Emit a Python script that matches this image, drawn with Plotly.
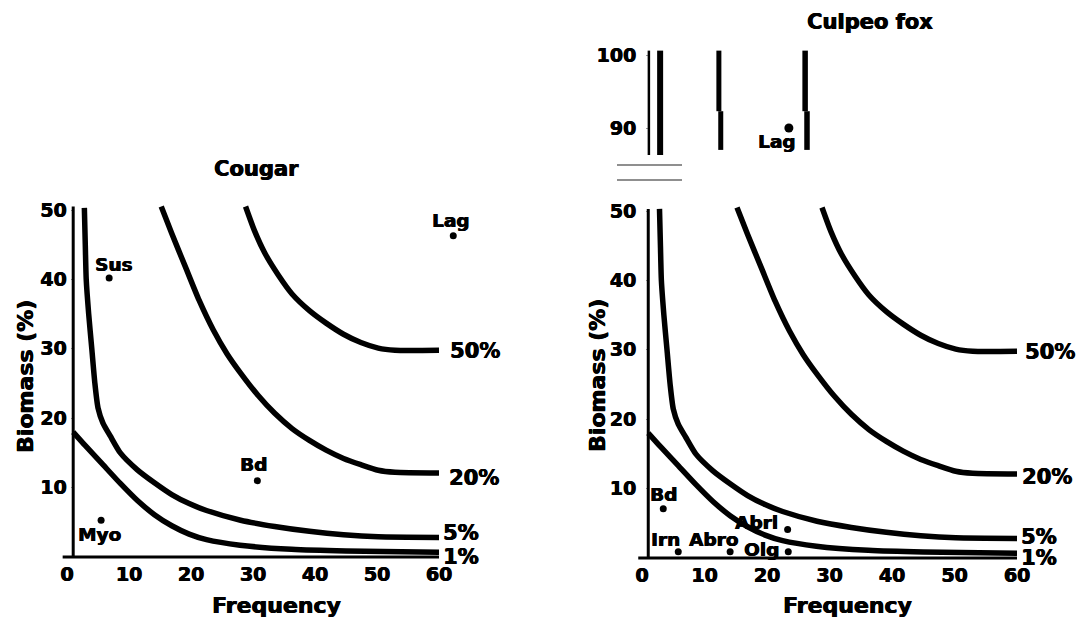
import plotly.graph_objects as go

# ---------------- data ----------------
# iso-lines (same on both panels): frequency (x) vs biomass (y)
freq_1 = [1.0, 3.0, 5.8, 8.6, 11.4, 14.1, 16.9, 19.7, 22.5, 27.9, 36.2, 45.0, 60.0]
bio_1 = [18.0, 16.0, 13.3, 10.6, 8.1, 6.1, 4.5, 3.3, 2.5, 1.7, 1.1, 0.85, 0.7]
freq_5 = [2.8, 2.95, 3.1, 3.5, 4.0, 4.5, 5.0, 5.8, 7.0, 8.6, 11.3, 14.1, 16.9, 19.7,
          22.5, 28.0, 33.5, 39.1, 44.6, 50.2, 60.0]
bio_5 = [50.3, 45.0, 40.0, 35.0, 30.0, 25.0, 21.5, 19.3, 17.4, 15.0, 12.6, 10.7, 9.0, 7.7,
         6.7, 5.3, 4.4, 3.7, 3.2, 2.9, 2.8]
freq_20 = [15.2, 16.9, 19.1, 21.3, 23.6, 25.8, 28.0, 30.8, 33.5, 36.3, 39.1, 41.8, 44.6,
           47.4, 50.2, 52.9, 60.0]
bio_20 = [50.5, 46.6, 41.8, 37.0, 32.7, 29.3, 26.5, 23.3, 20.7, 18.5, 16.8, 15.4, 14.2,
          13.3, 12.5, 12.2, 12.1]
freq_50 = [28.8, 30.2, 31.9, 34.1, 36.3, 39.1, 41.8, 44.6, 47.4, 50.2, 52.9, 60.0]
bio_50 = [50.5, 47.1, 43.8, 40.6, 37.9, 35.5, 33.7, 32.1, 30.9, 30.1, 29.8, 29.8]
curve_labels = ["1%", "5%", "20%", "50%"]

# continuation of iso-lines above the axis break (Culpeo fox panel)
up_freq_5 = [2.9, 2.9]
up_bio_5 = [86.3, 100.6]
up_freq_20 = [12.6, 12.6, None, 12.3, 12.3]
up_bio_20 = [87.0, 92.3, None, 92.3, 100.6]
up_freq_50 = [26.4, 26.4, None, 26.1, 26.1]
up_bio_50 = [87.0, 92.3, None, 92.3, 100.6]

# prey points
cougar_prey = ["Lag", "Sus", "Bd", "Myo"]
cougar_freq = [62.3, 6.8, 30.7, 5.5]
cougar_bio = [46.3, 40.2, 11.0, 5.3]

fox_prey = ["Bd", "Irn", "Abro", "Abrl", "Olg"]
fox_freq = [3.4, 5.8, 14.1, 23.3, 23.4]
fox_bio = [7.1, 0.9, 0.9, 4.1, 0.9]
fox_top_prey = ["Lag"]
fox_top_freq = [23.5]
fox_top_bio = [90.0]

x_ticks = [0, 10, 20, 30, 40, 50, 60]
y_ticks = [10, 20, 30, 40, 50]
y_ticks_top = [90, 100]

# ---------------- layout helpers ----------------
W, H = 1077, 620
FONT = "DejaVu Sans, sans-serif"
SHADOW = "0.6px 0px 0px black, -0.3px 0px 0px black"


def fnt(size):
    return dict(family=FONT, size=size, color="black", weight="bold", shadow=SHADOW)


def px(v):
    return v / W


def py(v):
    return 1 - v / H


# left panel mapping
L_X0, L_KX, L_Y0, L_KY = 67, 6.2, 557, 6.94
# right panel mapping
R_X0, R_KX, R_Y0, R_KY = 642, 6.25, 558, 6.94
T_Y100, T_KY = 55, 7.3

fig = go.Figure()

line_style = dict(color="black", width=5.5, shape="spline", smoothing=0.6)
curves = [(freq_1, bio_1), (freq_5, bio_5), (freq_20, bio_20), (freq_50, bio_50)]
for xa, ya in [("x", "y"), ("x2", "y2")]:
    for fx, by in curves:
        fig.add_trace(go.Scatter(x=fx, y=by, mode="lines", line=line_style,
                                 xaxis=xa, yaxis=ya, hoverinfo="skip",
                                 showlegend=False, cliponaxis=False))

for fx, by, w in [(up_freq_5, up_bio_5, 6), (up_freq_20, up_bio_20, 5),
                  (up_freq_50, up_bio_50, 5.5)]:
    fig.add_trace(go.Scatter(x=fx, y=by, mode="lines",
                             line=dict(color="black", width=w),
                             xaxis="x3", yaxis="y3", showlegend=False,
                             hoverinfo="skip", cliponaxis=False))

marker = dict(color="black", size=7)
fig.add_trace(go.Scatter(x=cougar_freq, y=cougar_bio, mode="markers", marker=marker,
                         xaxis="x", yaxis="y", showlegend=False, cliponaxis=False))
fig.add_trace(go.Scatter(x=fox_freq, y=fox_bio, mode="markers", marker=marker,
                         xaxis="x2", yaxis="y2", showlegend=False, cliponaxis=False))
fig.add_trace(go.Scatter(x=fox_top_freq, y=fox_top_bio, mode="markers",
                         marker=dict(color="black", size=9),
                         xaxis="x3", yaxis="y3", showlegend=False, cliponaxis=False))

ann = []
lab_font = fnt(18.5)
cougar_shift = {"Lag": (-2, 15), "Sus": (5, 14), "Bd": (-4, 16), "Myo": (-2, -14)}
for n, fx, by in zip(cougar_prey, cougar_freq, cougar_bio):
    dx, dy = cougar_shift[n]
    ann.append(dict(x=fx, y=by, xref="x", yref="y", text=n, showarrow=False,
                    xanchor="center", yanchor="middle",
                    xshift=dx, yshift=dy, font=lab_font))
fox_shift = {"Bd": (0, 14), "Irn": (-13, 12), "Abro": (-17, 12),
             "Abrl": (-31, 7), "Olg": (-27, 2)}
for n, fx, by in zip(fox_prey, fox_freq, fox_bio):
    dx, dy = fox_shift[n]
    ann.append(dict(x=fx, y=by, xref="x2", yref="y2", text=n, showarrow=False,
                    xanchor="center", yanchor="middle",
                    xshift=dx, yshift=dy, font=lab_font))
for n, fx, by in zip(fox_top_prey, fox_top_freq, fox_top_bio):
    ann.append(dict(x=fx, y=by, xref="x3", yref="y3", text=n, showarrow=False,
                    xanchor="center", yanchor="middle",
                    xshift=-12, yshift=-14, font=lab_font))

# curve labels at the right end of each iso-line
pct_font = fnt(21)
left_shift = [(2, -5), (2, 5), (8, -5), (9, -1)]
right_shift = [(2, -5), (2, 2), (3, -3), (6, -1)]
for (fx, by), lab, ls, rs in zip(curves, curve_labels, left_shift, right_shift):
    for (xr, yr), s in [(("x", "y"), ls), (("x2", "y2"), rs)]:
        ann.append(dict(x=fx[-1], y=by[-1], xref=xr, yref=yr, text=lab,
                        showarrow=False, xanchor="left", yanchor="middle",
                        xshift=s[0], yshift=s[1], font=pct_font))

title_font = fnt(21)
ax_font = fnt(22)
paper_txt = [
    ("Cougar", 256, 169, 0, title_font),
    ("Culpeo fox", 870, 22, 0, title_font),
    ("Frequency", 276, 605, 0, ax_font),
    ("Frequency", 847, 605, 0, ax_font),
    ("Biomass (%)", 25, 377, -90, ax_font),
    ("Biomass (%)", 597, 376, -90, ax_font),
]
for t, xx, yy, ang, f in paper_txt:
    ann.append(dict(x=px(xx), y=py(yy), xref="paper", yref="paper", text=t,
                    showarrow=False, xanchor="center", yanchor="middle",
                    textangle=ang, font=f))

shapes = []
axw = dict(color="black", width=3)
# left axes
shapes.append(dict(type="line", xref="x", yref="y", x0=1, x1=1, y0=0, y1=50.5, line=axw))
shapes.append(dict(type="line", xref="x", yref="y", x0=-0.7, x1=60, y0=0, y1=0, line=axw))
# right axes
shapes.append(dict(type="line", xref="x2", yref="y2", x0=1, x1=1, y0=0, y1=50.3, line=axw))
shapes.append(dict(type="line", xref="x2", yref="y2", x0=-0.6, x1=60, y0=0, y1=0, line=axw))
shapes.append(dict(type="line", xref="x3", yref="y3", x0=1.1, x1=1.1, y0=86.3, y1=100.6,
                   line=dict(color="black", width=2.5)))
# axis-break marks
for yb in (165, 180):
    shapes.append(dict(type="line", xref="paper", yref="paper", x0=px(617), x1=px(682),
                       y0=py(yb), y1=py(yb), line=dict(color="#6a6a6a", width=1.6)))

common = dict(showgrid=False, zeroline=False, showline=False, tickfont=fnt(19),
              ticks="outside", ticklen=3, tickcolor="#999", tickwidth=1)

fig.update_layout(
    width=W, height=H, margin=dict(l=0, r=0, t=0, b=0),
    paper_bgcolor="white", plot_bgcolor="white",
    showlegend=False,
    xaxis=dict(domain=[0, px(545)], range=[-L_X0 / L_KX, (545 - L_X0) / L_KX],
               anchor="free", position=py(L_Y0), tickvals=x_ticks, **{**common, "ticklen": 0}),
    yaxis=dict(domain=[py(600), py(185)],
               range=[(L_Y0 - 600) / L_KY, (L_Y0 - 185) / L_KY],
               anchor="free", position=px(73.5), tickvals=y_ticks, **common),
    xaxis2=dict(domain=[px(556), 1], range=[(556 - R_X0) / R_KX, (W - R_X0) / R_KX],
                anchor="free", position=py(R_Y0), tickvals=x_ticks, **{**common, "ticklen": 0}),
    yaxis2=dict(domain=[py(600), py(190)],
                range=[(R_Y0 - 600) / R_KY, (R_Y0 - 190) / R_KY],
                anchor="free", position=px(649), tickvals=y_ticks,
                ticklabelstandoff=6, **common),
    xaxis3=dict(domain=[px(556), 1], range=[(556 - R_X0) / R_KX, (W - R_X0) / R_KX],
                anchor="y3", visible=False),
    yaxis3=dict(domain=[py(175), py(35)],
                range=[100 - (175 - T_Y100) / T_KY, 100 + (T_Y100 - 35) / T_KY],
                anchor="free", position=px(649), tickvals=y_ticks_top,
                ticklabelstandoff=6, **common),
    annotations=ann, shapes=shapes,
)

fig.write_html("out.html", config={"displayModeBar": False},
               post_script="document.body.style.margin='0';")
